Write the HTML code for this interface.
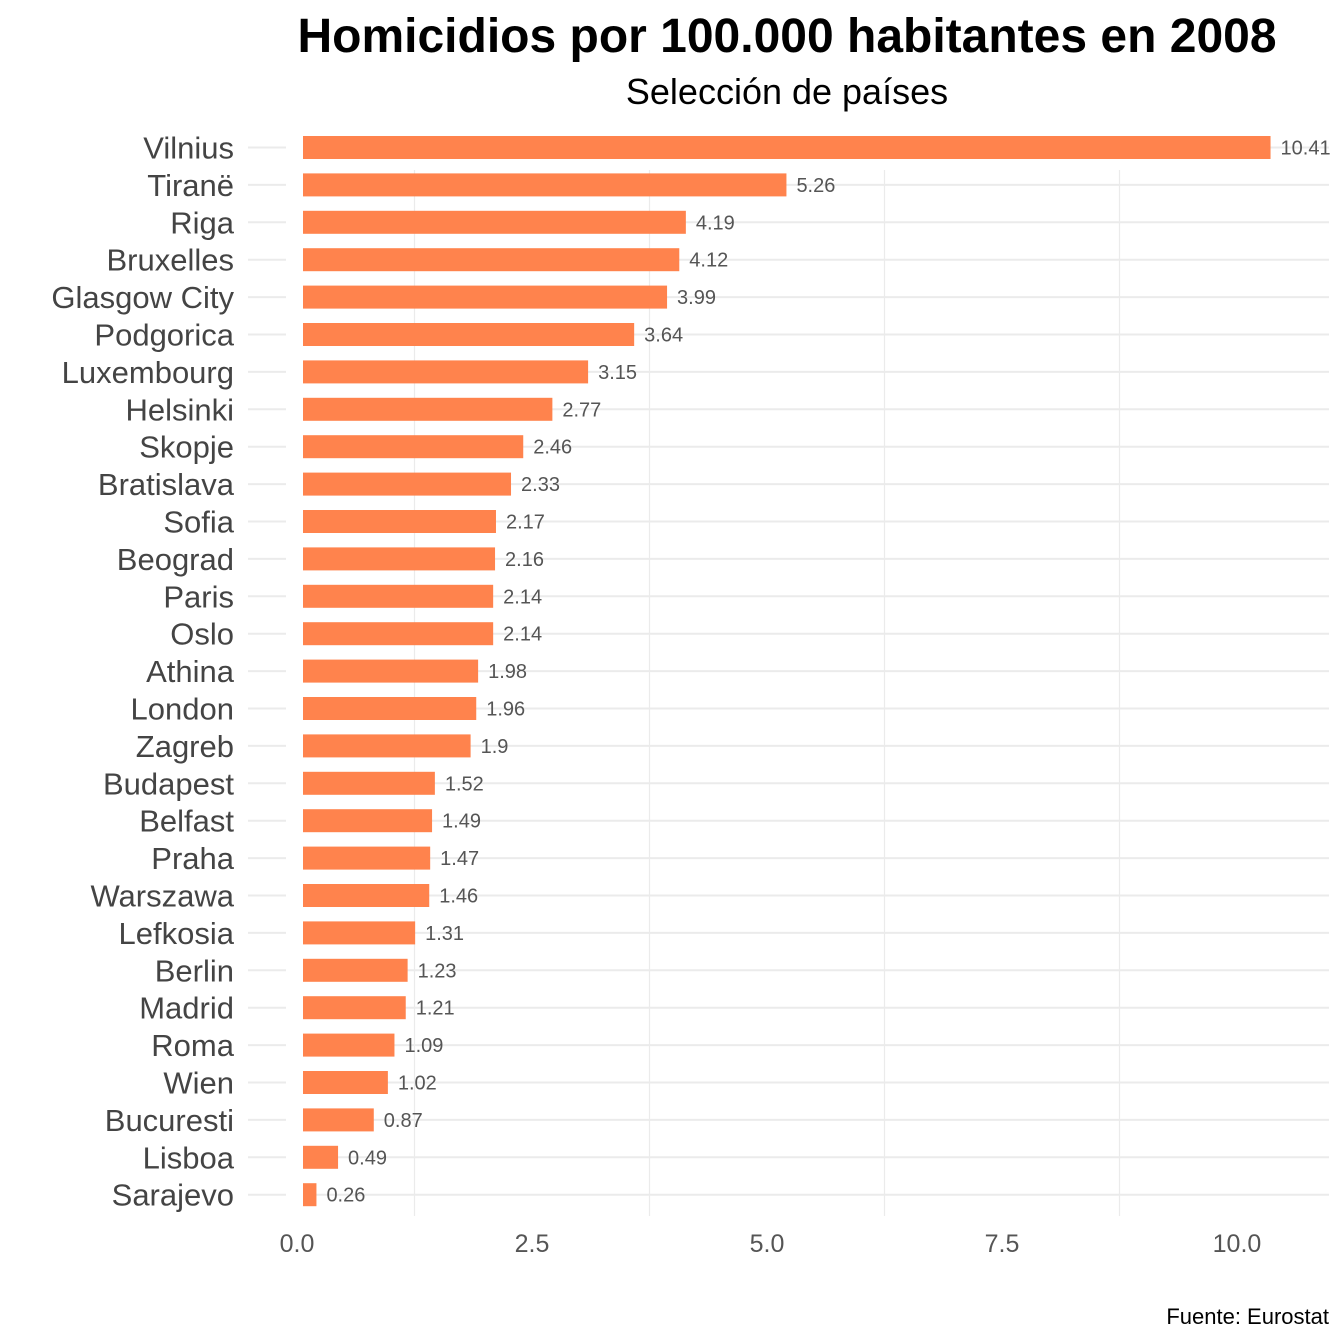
<!DOCTYPE html>
<html><head><meta charset="utf-8"><style>
html,body{margin:0;padding:0;background:#fff;}
svg{display:block;font-family:"Liberation Sans",Arial,sans-serif;}
</style></head><body>
<svg id="chart" width="1344" height="1344" viewBox="0 0 1344 1344" xmlns="http://www.w3.org/2000/svg">
<rect width="1344" height="1344" fill="#fff"/>
<text x="787" y="52" text-anchor="middle" font-size="48" font-weight="bold" fill="#000">Homicidios por 100.000 habitantes en 2008</text>
<text x="787" y="104" text-anchor="middle" font-size="36" fill="#000">Selección de países</text>
<g id="grid"></g>
<g id="bars"></g>
<rect x="286" y="125" width="17" height="1095" fill="#fff"/>
<g id="labels"></g>
<text x="1329" y="1324" text-anchor="end" font-size="22" fill="#000">Fuente: Eurostat</text>
</svg>
<script>
const categories = ["Vilnius","Tiranë","Riga","Bruxelles","Glasgow City","Podgorica","Luxembourg","Helsinki","Skopje","Bratislava","Sofia","Beograd","Paris","Oslo","Athina","London","Zagreb","Budapest","Belfast","Praha","Warszawa","Lefkosia","Berlin","Madrid","Roma","Wien","Bucuresti","Lisboa","Sarajevo"];
const values = [10.41,5.26,4.19,4.12,3.99,3.64,3.15,2.77,2.46,2.33,2.17,2.16,2.14,2.14,1.98,1.96,1.9,1.52,1.49,1.47,1.46,1.31,1.23,1.21,1.09,1.02,0.87,0.49,0.26];
const valueLabels = ["10.41","5.26","4.19","4.12","3.99","3.64","3.15","2.77","2.46","2.33","2.17","2.16","2.14","2.14","1.98","1.96","1.9","1.52","1.49","1.47","1.46","1.31","1.23","1.21","1.09","1.02","0.87","0.49","0.26"];
const xTicks = [0,2.5,5,7.5,10];
const xTickLabels = ["0.0","2.5","5.0","7.5","10.0"];
const minorTicks = [1.25,3.75,6.25,8.75];

const NS="http://www.w3.org/2000/svg";
const ax = v => 297 + v*94;
const bx = v => 292 + v*94;
const y = i => 147.5 + i*37.4;
function mk(tag, attrs, parent, txt){const e=document.createElementNS(NS,tag);for(const k in attrs)e.setAttribute(k,attrs[k]);if(txt!==undefined)e.textContent=txt;parent.appendChild(e);return e;}
const grid=document.getElementById('grid'), bars=document.getElementById('bars'), labels=document.getElementById('labels');
minorTicks.forEach(t=>{
  const l=mk('line',{x1:ax(t),x2:ax(t),y1:170,y2:1216,stroke:'#ebebeb','stroke-width':1.2},grid);
  
  
});
categories.forEach((c,i)=>{
  const l=mk('line',{x1:248,x2:1329,y1:y(i),y2:y(i),stroke:'#ebebeb','stroke-width':2},grid);
  
  
  const r=mk('rect',{x:bx(0),y:y(i)-11.5,width:bx(values[i])-bx(0),height:23,fill:'#ff834d'},bars);
  
  
  const vl=mk('text',{x:bx(values[i])+10,y:y(i)+7,'font-size':20,fill:'#555'},labels,valueLabels[i]);
  
  
  const cl=mk('text',{x:234,y:y(i)+11,'text-anchor':'end','font-size':31,fill:'#444'},labels,c);
  
  
});
xTicks.forEach((t,i)=>{
  const tl=mk('text',{x:ax(t),y:1252,'text-anchor':'middle','font-size':25,fill:'#555'},labels,xTickLabels[i]);
  
  
});
</script>
</body></html>
